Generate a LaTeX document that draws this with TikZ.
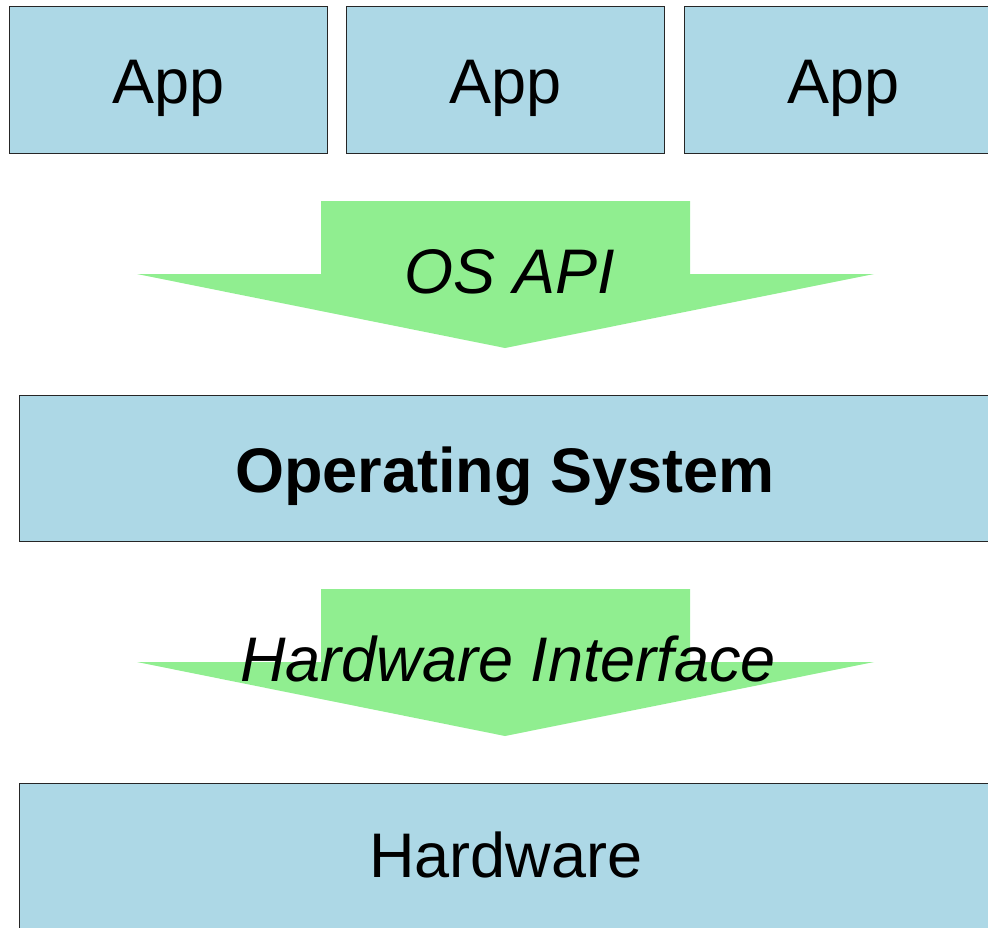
\documentclass[tikz,border=0pt]{standalone}
\usepackage{fontspec}
\setmainfont{Liberation Sans}
\definecolor{boxblue}{RGB}{173,216,230}
\definecolor{arrgreen}{RGB}{144,238,144}
\begin{document}
\begin{tikzpicture}[x=1pt,y=-1pt,
  layerbox/.style={draw=black!85,line width=1.3pt,fill=boxblue,rectangle,inner sep=0pt,anchor=north west},
  lbl/.style={font=\fontsize{63}{63}\selectfont,text=black,anchor=base,inner sep=0pt},
  bigarrow/.style={fill=arrgreen,draw=none}]
\useasboundingbox (0,0) rectangle (988,927);
\clip (0,0) rectangle (988,927);
% App boxes
\node[layerbox,minimum width=318pt,minimum height=147pt] (app1) at (9,6) {};
\node[layerbox,minimum width=318pt,minimum height=147pt] (app2) at (346,6) {};
\node[layerbox,minimum width=318pt,minimum height=147pt] (app3) at (684,6) {};
\node[lbl] (t1) at (app1.center |- 0,103) {App};
\node[lbl] (t2) at (app2.center |- 0,103) {App};
\node[lbl] (t3) at (app3.center |- 0,103) {App};
% OS API arrow
\fill[bigarrow] (321,201) -- (690,201) -- (690,274) -- (874,274) -- (505,348) -- (137,274) -- (321,274) -- cycle;
\node[lbl,font=\fontsize{63}{63}\selectfont\itshape] (osapi) at (510,293) {OS API};
% OS box
\node[layerbox,minimum width=1000pt,minimum height=146pt] (os) at (19,395) {};
\node[lbl,font=\fontsize{63}{63}\selectfont\bfseries] (oslbl) at (505,492) {Operating System};
% Hardware interface arrow
\fill[bigarrow] (321,589) -- (690,589) -- (690,662) -- (874,662) -- (505,736) -- (137,662) -- (321,662) -- cycle;
\node[lbl,font=\fontsize{63}{63}\selectfont\itshape] (hwi) at (508,681) {Hardware Interface};
% Hardware box
\node[layerbox,minimum width=1000pt,minimum height=150pt] (hw) at (19,783) {};
\node[lbl] (hwlbl) at (506,877) {Hardware};
\end{tikzpicture}
\end{document}
